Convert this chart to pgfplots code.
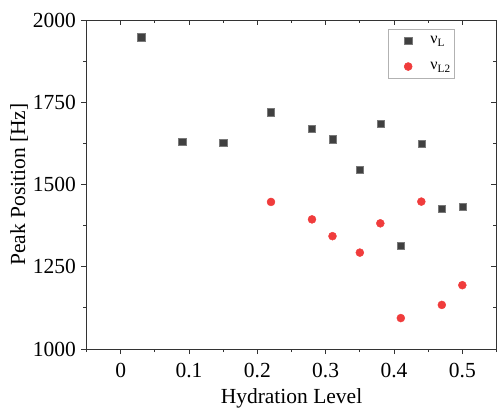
\documentclass[border=0pt]{standalone}
\usepackage{fontspec}
\setmainfont{Liberation Serif}
\usepackage{pgfplots}
\pgfplotsset{compat=1.18}
\definecolor{sqc}{HTML}{404040}
\definecolor{rdc}{HTML}{F03C3C}
\definecolor{axc}{HTML}{333333}
\begin{document}
\begin{tikzpicture}
\useasboundingbox (-86.5pt,-59pt) rectangle (411.5pt,349pt);
\pgfplotsset{
  common/.style={
    scale only axis, width=410pt, height=329pt,
    at={(0pt,0pt)}, anchor=south west,
    xmin=-0.05, xmax=0.55, ymin=1000, ymax=2000,
    xtick={0,0.1,0.2,0.3,0.4,0.5},
    minor xtick={-0.05,0.05,0.15,0.25,0.35,0.45,0.55},
    ytick={1000,1250,1500,1750,2000},
    minor ytick={1125,1375,1625,1875},
    major tick length=5pt, minor tick length=3pt,
    every tick/.style={axc, line width=0.8pt},
    axis line style={axc, line width=0.9pt},
  }
}
\begin{axis}[common,
  tick align=outside, xtick pos=bottom, ytick pos=left,
  /pgf/number format/assume math mode=true,
  xticklabel style={font=\fontsize{21.5}{24}\selectfont, /pgf/number format/fixed, yshift=-6pt},
  yticklabel style={font=\fontsize{21.5}{24}\selectfont, /pgf/number format/1000 sep={}, xshift=-2pt},
  scaled y ticks=false,
  xlabel={Hydration Level}, ylabel={Peak Position [Hz]},
  label style={font=\fontsize{21.5}{24}\selectfont},
  xlabel style={at={(axis description cs:0.5,0)}, anchor=base, yshift=-54pt},
  ylabel style={yshift=-2pt},
  legend style={at={(0.7346,0.9726)}, anchor=north west, draw=gray!60, line width=0.5pt,
    font=\fontsize{16}{19}\selectfont, inner xsep=2pt, inner ysep=5pt,
    row sep=13pt, column sep=2pt},
  legend image code/.code={\path (0pt,0pt) (36pt,0pt); \draw[#1] plot coordinates {(18pt,0pt)};},
  legend cell align=left,
]
\addplot[only marks, mark=square*, mark size=3.6pt, mark options={fill=sqc, draw=sqc!70}]
coordinates {
(0.03,1948) (0.09,1631) (0.15,1627) (0.22,1720) (0.28,1670) (0.31,1638)
(0.35,1544) (0.38,1684) (0.41,1314) (0.44,1625) (0.47,1426) (0.50,1433)
};
\addlegendentry{ν\textsubscript{L}}
\addplot[only marks, mark=*, mark size=4pt, mark options={fill=rdc, draw=rdc}]
coordinates {
(0.22,1447) (0.28,1394) (0.31,1343) (0.35,1293) (0.38,1382) (0.41,1094)
(0.44,1448) (0.47,1134) (0.50,1194)
};
\addlegendentry{ν\textsubscript{L2}}
\end{axis}
\begin{axis}[common, tick align=inside, xtick pos=top, ytick pos=right,
  xticklabels={}, yticklabels={}]
\end{axis}
\end{tikzpicture}
\end{document}
